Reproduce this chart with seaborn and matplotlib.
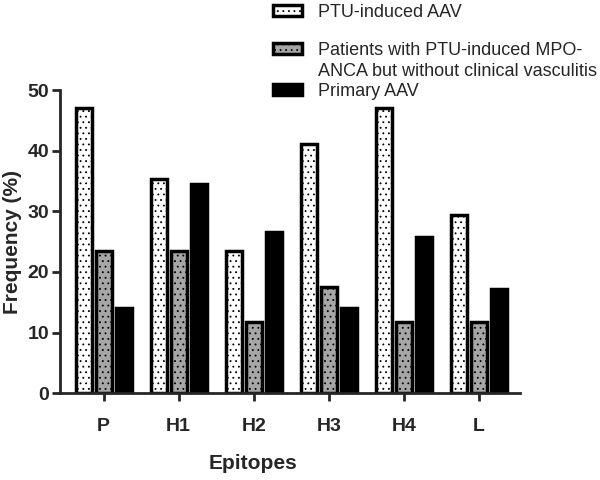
import pandas as pd
import matplotlib
matplotlib.use('Agg')
import matplotlib.pyplot as plt
from matplotlib.patches import Rectangle
import seaborn as sns

# Data
epitopes = ['P', 'H1', 'H2', 'H3', 'H4', 'L']
groups = ['PTU-induced AAV',
          'Patients with PTU-induced MPO-\nANCA but without clinical vasculitis',
          'Primary AAV']
ptu_aav = [47.1, 35.3, 23.5, 41.2, 47.1, 29.4]
ptu_no_vasc = [23.5, 23.5, 11.8, 17.6, 11.8, 11.8]
primary_aav = [14.1, 34.5, 26.6, 14.1, 25.7, 17.2]

df = pd.DataFrame({
    'Epitope': epitopes * 3,
    'Group': [groups[0]] * 6 + [groups[1]] * 6 + [groups[2]] * 6,
    'Frequency': ptu_aav + ptu_no_vasc + primary_aav,
})

sns.set_style('ticks')
plt.rcParams['font.family'] = ['Liberation Sans', 'DejaVu Sans']
plt.rcParams['hatch.linewidth'] = 0.6

fig = plt.figure(figsize=(6, 4.8), dpi=100)
ax = fig.add_axes([0.1, 0.181, 0.767, 0.631])

colors = ['white', '#a6a6a6', 'black']
sns.barplot(data=df, x='Epitope', y='Frequency', hue='Group', palette=colors,
            width=0.8, gap=0.2, edgecolor='black', linewidth=2.5, ax=ax,
            legend=False)

hatches = ['...', '...', '']
for cont, h in zip(ax.containers, hatches):
    for bar in cont:
        bar.set_hatch(h)

ax.set_ylim(0, 50)
ax.set_xlim(-0.58, 5.55)
ax.set_yticks([0, 10, 20, 30, 40, 50])
sns.despine(ax=ax)
for s in ['left', 'bottom']:
    ax.spines[s].set_linewidth(2)
ax.tick_params(width=2, length=6, labelsize=14)
ax.tick_params(axis='x', pad=12)
ax.tick_params(axis='y', pad=2)
for lbl in ax.get_xticklabels() + ax.get_yticklabels():
    lbl.set_fontweight('bold')

ax.set_ylabel('Frequency (%)', fontsize=15, fontweight='bold')
ax.yaxis.set_label_coords(-0.083, 0.5)
ax.set_xlabel('Epitopes', fontsize=15, fontweight='bold')
ax.xaxis.set_label_coords(0.42, -0.2)

# Legend: the handle of the two-line entry sits on its first line
handles = [cont[0] for cont in ax.containers]
blank = Rectangle((0, 0), 1, 1, fill=False, linewidth=0)
line1, line2 = groups[1].split('\n')
leg_kw = dict(loc='upper left', frameon=False, fontsize=13, borderpad=0,
              borderaxespad=0, handlelength=1.6, handleheight=0.55,
              handletextpad=0.9)
fig.legend([handles[0]], [groups[0]], bbox_to_anchor=(0.455, 0.992), **leg_kw)
fig.legend([handles[1], blank, handles[2]], [line1, line2, groups[2]],
           bbox_to_anchor=(0.455, 0.9125), labelspacing=0.2, **leg_kw)

plt.savefig('out.png', dpi=100)
